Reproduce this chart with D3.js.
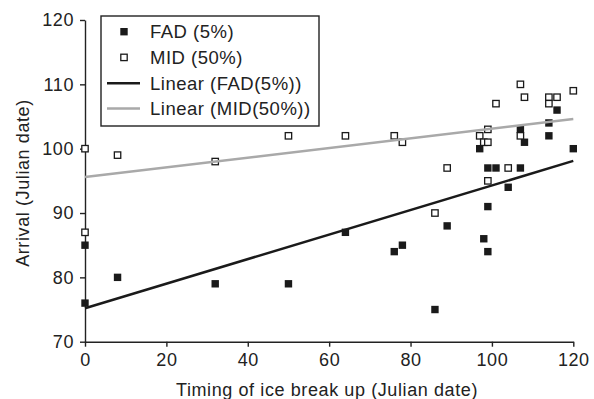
<!DOCTYPE html>
<html>
<head>
<meta charset="utf-8">
<script src="https://cdn.jsdelivr.net/npm/d3@7"></script>
<style>
body { margin: 0; background: #fff; }
text { font-family: "Liberation Sans", Arial, sans-serif; fill: #222; }
</style>
</head>
<body>
<script>
// FAD (5%) points
var fadX = [0, 0, 8, 32, 50, 64, 76, 78, 86, 89, 97, 98, 99, 99, 99, 101, 104, 107, 107, 108, 114, 114, 116, 120];
var fadY = [85, 76, 80, 79, 79, 87, 84, 85, 75, 88, 100, 86, 84, 91, 97, 97, 94, 97, 103, 101, 102, 104, 106, 100];
// MID (50%) points
var midX = [0, 0, 8, 32, 50, 64, 76, 78, 86, 89, 97, 98, 99, 99, 99, 101, 104, 107, 107, 108, 114, 114, 116, 120];
var midY = [100, 87, 99, 98, 102, 102, 102, 101, 90, 97, 102, 101, 101, 103, 95, 107, 97, 110, 102, 108, 108, 107, 108, 109];
// trend line end points (x = 0 and x = 120)
var trendX = [0, 120];
var fadTrend = [75.2, 98.1];
var midTrend = [95.6, 104.6];
var xTicks = [0, 20, 40, 60, 80, 100, 120];
var yTicks = [70, 80, 90, 100, 110, 120];
var legendLabels = ["FAD (5%)", "MID (50%)", "Linear (FAD(5%))", "Linear (MID(50%))"];

var W = 594, H = 399;
var svg = d3.select("body").append("svg").attr("width", W).attr("height", H);

var x = d3.scaleLinear().domain([0, 120]).range([85, 573.3]);
var y = d3.scaleLinear().domain([70, 120]).range([341.7, 20]);

var xAxis = svg.append("g").attr("transform", "translate(0," + y(70) + ")")
    .call(d3.axisBottom(x).tickValues(xTicks).tickSize(5).tickSizeOuter(0).tickPadding(7));
var yAxis = svg.append("g").attr("transform", "translate(" + x(0) + ",0)")
    .call(d3.axisLeft(y).tickValues(yTicks).tickSize(5).tickSizeOuter(0).tickPadding(6));

[xAxis, yAxis].forEach(function(a){
    a.select(".domain").attr("stroke", "#222").attr("stroke-width", 1.4);
    a.selectAll(".tick line").attr("stroke", "#222").attr("stroke-width", 1.4);
    a.selectAll(".tick text").style("font-size", "18px").style("letter-spacing", "0.6px")
        .attr("fill", "#222").style("font-family", "'Liberation Sans', Arial, sans-serif");
});

svg.append("text").attr("x", 327).attr("y", 396).attr("text-anchor", "middle")
    .style("font-size", "18px").style("letter-spacing", "0.6px")
    .text("Timing of ice break up (Julian date)");
svg.append("text").attr("transform", "translate(29,183) rotate(-90)").attr("text-anchor", "middle")
    .style("font-size", "18px").style("letter-spacing", "0.6px")
    .text("Arrival (Julian date)");

var fad = fadX.map(function(d, i){ return {x: d, y: fadY[i]}; });
var mid = midX.map(function(d, i){ return {x: d, y: midY[i]}; });

var s = 7.4;
svg.selectAll(".fad").data(fad).enter().append("rect")
    .attr("class", "fad")
    .attr("x", function(d){ return x(d.x) - s/2; })
    .attr("y", function(d){ return y(d.y) - s/2; })
    .attr("width", s).attr("height", s)
    .attr("fill", "#1a1a1a");

var m = 6.4;
svg.selectAll(".mid").data(mid).enter().append("rect")
    .attr("class", "mid")
    .attr("x", function(d){ return x(d.x) - m/2; })
    .attr("y", function(d){ return y(d.y) - m/2; })
    .attr("width", m).attr("height", m)
    .attr("fill", "#fff").attr("stroke", "#1a1a1a").attr("stroke-width", 1.3);

var line = d3.line().x(function(d){ return x(d[0]); }).y(function(d){ return y(d[1]); });
svg.append("path").datum(d3.zip(trendX, fadTrend)).attr("d", line)
    .attr("fill", "none").attr("stroke", "#1a1a1a").attr("stroke-width", 2.5);
svg.append("path").datum(d3.zip(trendX, midTrend)).attr("d", line)
    .attr("fill", "none").attr("stroke", "#a9a9a9").attr("stroke-width", 2.5);

// legend
var lg = svg.append("g");
lg.append("rect").attr("x", 101).attr("y", 16).attr("width", 218).attr("height", 110)
    .attr("fill", "#fff").attr("stroke", "#222").attr("stroke-width", 1.4);
var rowY = [31.7, 57.4, 83.2, 108.6];
lg.append("rect").attr("x", 124 - s/2).attr("y", rowY[0] - s/2).attr("width", s).attr("height", s).attr("fill", "#1a1a1a");
lg.append("rect").attr("x", 124 - m/2).attr("y", rowY[1] - m/2).attr("width", m).attr("height", m)
    .attr("fill", "#fff").attr("stroke", "#1a1a1a").attr("stroke-width", 1.3);
lg.append("line").attr("x1", 107).attr("x2", 140).attr("y1", rowY[2]).attr("y2", rowY[2])
    .attr("stroke", "#1a1a1a").attr("stroke-width", 2.5);
lg.append("line").attr("x1", 107).attr("x2", 140).attr("y1", rowY[3]).attr("y2", rowY[3])
    .attr("stroke", "#a9a9a9").attr("stroke-width", 2.5);
lg.selectAll(".lt").data(legendLabels).enter().append("text")
    .attr("class", "lt")
    .attr("x", 150).attr("y", function(d, i){ return rowY[i] + 6.4; })
    .style("font-size", "18.5px").style("letter-spacing", "0.5px")
    .text(function(d){ return d; });
</script>
</body>
</html>
